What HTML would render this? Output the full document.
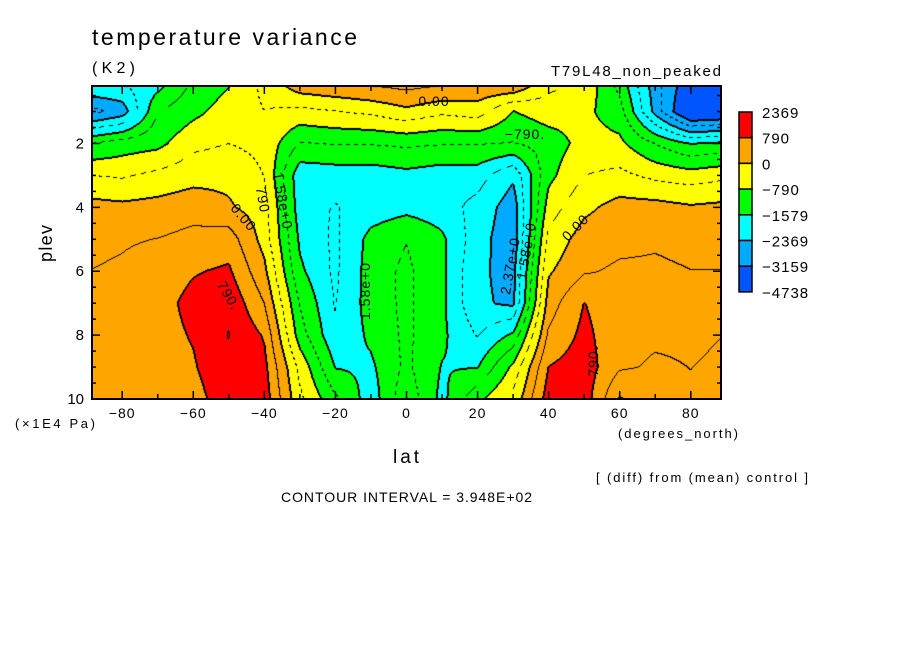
<!DOCTYPE html>
<html><head><meta charset="utf-8"><style>
html,body{margin:0;padding:0;background:#fff;width:904px;height:654px;overflow:hidden}
#wrap{position:relative;width:904px;height:654px}
canvas,svg{position:absolute;left:0;top:0}
text{font-family:"Liberation Sans","DejaVu Sans",sans-serif;fill:#000}
</style></head><body>
<div id="wrap">
<canvas id="cv" width="904" height="654"></canvas>
<svg id="sv" width="904" height="654"></svg>
</div>
<script>
const lats=[-88.5,-80,-70,-60,-50,-40,-30,-20,-10,0,10,20,30,40,50,60,70,80,88.5];
const plevs=[0.2,1,2,3,4,5,6,7,8,9,10];
const row0=[-2000,-2000,-1700,-1100,-800,-300,200,300,400,500,400,300,300,-300,-500,-1300,-2600,-3500,-3300];
const row1=[-2900,-2600,-1200,-900,-600,-400,-500,-400,-300,-100,-300,-200,-800,-600,-700,-1000,-2500,-3800,-3700];
const row2=[-1200,-1000,-900,-500,-400,-500,-1200,-1150,-1150,-1100,-1150,-1150,-1200,-1000,-650,-700,-1200,-1600,-1500];
const row3=[-400,-450,-300,-150,-100,-400,-1850,-1800,-1800,-1700,-1800,-1800,-2300,-900,-400,-300,-500,-600,-500];
const row4=[150,100,150,250,50,-200,-1800,-2000,-1800,-1700,-1800,-2100,-2600,-600,-100,150,150,50,100];
const row5=[300,350,400,500,600,-150,-1650,-2050,-1450,-1200,-1500,-2200,-2650,-300,200,300,350,300,300];
const row6=[400,450,600,760,850,100,-1500,-2050,-1400,-1100,-1500,-2300,-2500,-50,350,450,450,400,400];
const row7=[450,500,650,900,1100,400,-1200,-2000,-1400,-1100,-1500,-2300,-2450,200,800,500,450,400,450];
const row8=[500,550,650,820,1200,750,-1000,-1900,-1500,-1100,-1500,-2000,-1500,450,900,500,450,450,400];
const row9=[450,500,600,750,1100,900,-500,-1600,-1650,-1100,-1600,-1600,-700,800,1000,450,350,400,350];
const row10=[400,450,500,650,1000,1000,-300,-1100,-1800,-900,-1700,-900,-300,1000,1000,-30,200,350,300];
const values=[row0,row1,row2,row3,row4,row5,row6,row7,row8,row9,row10];
const levels=[790,0,-790,-1579,-2369,-3159];
const legendLabels=["2369","790","0","-790","-1579","-2369","-3159","-4738"];
const colors=["#ff0000","#ffa500","#ffff00","#00ff00","#00ffff","#00aaff","#0055ff"];
const latTicks=[-80,-60,-40,-20,0,20,40,60,80];
const plevTicks=[2,4,6,8,10];

const X0=92,X1=721,Y0=86,Y1=399;
const LAT_MIN=-88.5,LAT_MAX=88.5,P_MIN=0.2,P_MAX=10;
function xs(lat){return X0+(lat-LAT_MIN)/(LAT_MAX-LAT_MIN)*(X1-X0);}
function ys(p){return Y0+(p-P_MIN)/(P_MAX-P_MIN)*(Y1-Y0);}
function latOf(x){return LAT_MIN+(x-X0)/(X1-X0)*(LAT_MAX-LAT_MIN);}
function pOf(y){return P_MIN+(y-Y0)/(Y1-Y0)*(P_MAX-P_MIN);}
function idx(arr,v){let i=0;while(i<arr.length-2&&v>arr[i+1])i++;return i;}
function val(lat,p){
  const i=idx(lats,lat),j=idx(plevs,p);
  let tx=(lat-lats[i])/(lats[i+1]-lats[i]);tx=Math.max(0,Math.min(1,tx));
  let ty=(p-plevs[j])/(plevs[j+1]-plevs[j]);ty=Math.max(0,Math.min(1,ty));
  const a=values[j][i],b=values[j][i+1],c=values[j+1][i],d=values[j+1][i+1];
  return (a*(1-tx)+b*tx)*(1-ty)+(c*(1-tx)+d*tx)*ty;
}
function lev(v){let k=0;while(k<levels.length&&v<levels[k])k++;return k;}
const half=[];for(let k=0;k<levels.length;k++){half.push(levels[k]);if(k<levels.length-1)half.push((levels[k]+levels[k+1])/2);}
half.unshift(1185);
function hlev(v){let k=0;while(k<half.length&&v<half[k])k++;return k;}
function hex(c){return [parseInt(c.substr(1,2),16),parseInt(c.substr(3,2),16),parseInt(c.substr(5,2),16)];}

const cv=document.getElementById('cv');const ctx=cv.getContext('2d');
const W=X1-X0,H=Y1-Y0;
const V=[];for(let y=0;y<H;y++){const r=[];for(let x=0;x<W;x++){r.push(val(latOf(X0+x+0.5),pOf(Y0+y+0.5)));}V.push(r);}
const img=ctx.createImageData(W,H);
for(let y=0;y<H;y++)for(let x=0;x<W;x++){
  const v=V[y][x];const L=lev(v);let rgb=hex(colors[L]);
  let blk=false;
  for(const [dx,dy] of [[1,0],[0,1],[-1,0],[0,-1]]){const xx=x+dx,yy=y+dy;if(xx<0||yy<0||xx>=W||yy>=H)continue;if(lev(V[yy][xx])!==L){blk=true;break;}}
  if(!blk){const h=hlev(v);
    if((x+1<W&&hlev(V[y][x+1])!==h)||(y+1<H&&hlev(V[y+1][x])!==h)){
      if(v>0||(((x+y)>>2)&1)===0)blk=true;}
  }
  if(blk)rgb=[0,0,0];
  const o=(y*W+x)*4;img.data[o]=rgb[0];img.data[o+1]=rgb[1];img.data[o+2]=rgb[2];img.data[o+3]=255;
}
ctx.putImageData(img,X0,Y0);

const NS='http://www.w3.org/2000/svg';const sv=document.getElementById('sv');
function el(tag,attrs,txt){const e=document.createElementNS(NS,tag);for(const k in attrs)e.setAttribute(k,attrs[k]);if(txt!==undefined)e.textContent=txt;sv.appendChild(e);return e;}
let e;
e=el('rect',{x:X0,y:Y0,width:W,height:H,fill:'none',stroke:'#000','stroke-width':2});


for(let l=-80;l<=80;l+=10){const x=xs(l);const len=(l%20===0)?8:5;
  e=el('line',{x1:x,y1:Y1,x2:x,y2:Y1-len,stroke:'#000','stroke-width':1.5});
  
  
  e=el('line',{x1:x,y1:Y0,x2:x,y2:Y0+len,stroke:'#000','stroke-width':1.5});
  
  }
latTicks.forEach(l=>{const t=String(l).replace('-','\u2212');e=el('text',{x:xs(l),y:418,'font-size':14,'text-anchor':'middle','letter-spacing':1},t);
  
  });
for(let p=0.5;p<=10;p+=0.5){const y=ys(p);const len=(p%2===0)?8:4;
  e=el('line',{x1:X0,y1:y,x2:X0+len,y2:y,stroke:'#000','stroke-width':1.5});
  
  
  e=el('line',{x1:X1,y1:y,x2:X1-len,y2:y,stroke:'#000','stroke-width':1.5});
  
  }
plevTicks.forEach(p=>{e=el('text',{x:84,y:ys(p)+5,'font-size':15,'text-anchor':'end'},String(p));
  
  });
const LX=739,LY=112,LH=25.7;
colors.forEach((c,k)=>{e=el('rect',{x:LX,y:LY+k*LH,width:13,height:LH,fill:c,stroke:'#000','stroke-width':1.5});
  
  });
legendLabels.forEach((t,k)=>{e=el('text',{x:762,y:LY+k*LH+6,'font-size':15,'letter-spacing':1},t.replace('-','\u2212'));
  
  });
const cl=[[434,106,0,'0.00'],[525,139,0,'\u2212790.'],[243,222,50,'0.00'],[262,204,80,'790'],[282,205,80,'1.58e+0'],[228,300,60,'790.'],[366,295,-90,'1.58e+0'],[511,270,-80,'2.37e+0'],[527,255,-80,'1.58e+0'],[576,232,-45,'0.00'],[594,365,-90,'790.']];
cl.forEach(([x,y,r,t])=>{e=el('text',{x:x,y:y,'font-size':14,'text-anchor':'middle','letter-spacing':1,transform:`rotate(${r} ${x} ${y-4})`},t);
  
  });
</script>
<svg width="904" height="654" style="position:absolute;left:0;top:0">
<text x="92" y="45" font-size="23" textLength="265" lengthAdjust="spacing">temperature variance</text>
<text x="92" y="73" font-size="16" textLength="43" lengthAdjust="spacing">(K2)</text>
<text x="551" y="76" font-size="15" textLength="170" lengthAdjust="spacing">T79L48_non_peaked</text>
<text x="52" y="262" font-size="18" textLength="37" lengthAdjust="spacing" transform="rotate(-90 52 262)">plev</text>
<text x="15" y="428" font-size="13" textLength="80" lengthAdjust="spacing">(×1E4 Pa)</text>
<text x="393" y="463" font-size="19" textLength="26" lengthAdjust="spacing">lat</text>
<text x="618" y="438" font-size="13" textLength="120" lengthAdjust="spacing">(degrees_north)</text>
<text x="596" y="482" font-size="13" textLength="212" lengthAdjust="spacing">[ (diff) from (mean) control ]</text>
<text x="281" y="502" font-size="14" textLength="251" lengthAdjust="spacing">CONTOUR INTERVAL = 3.948E+02</text>
</svg>
</body></html>
